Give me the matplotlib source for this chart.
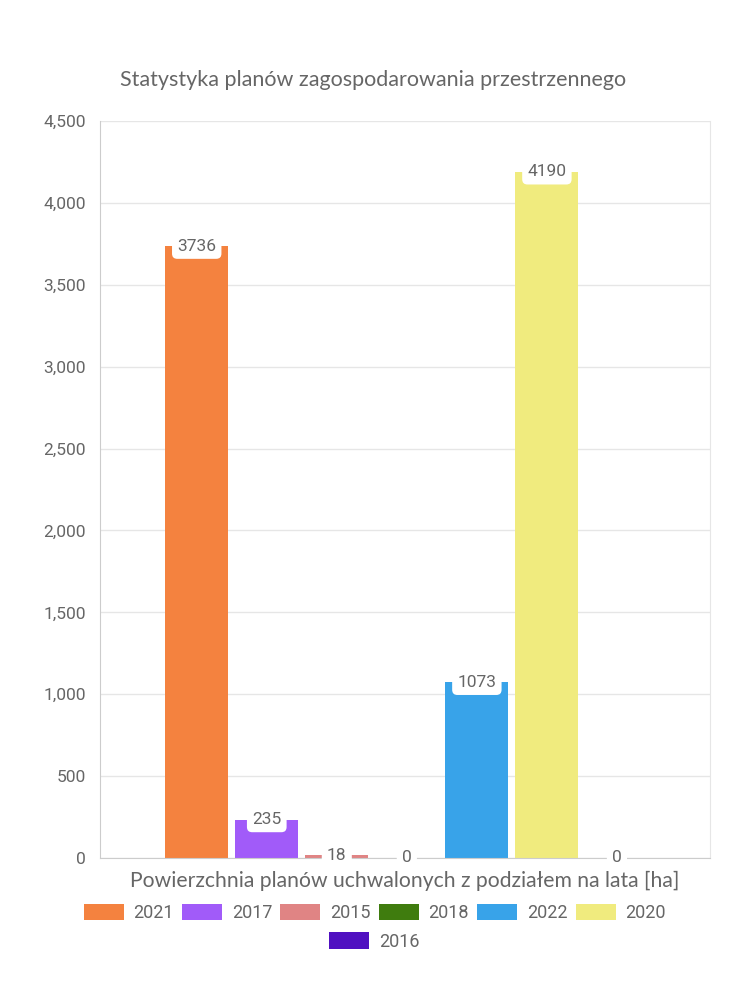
import numpy as np
import matplotlib
matplotlib.use('Agg')
import matplotlib.pyplot as plt
import matplotlib as mpl
from matplotlib.ticker import FuncFormatter

# data
years = ['2021', '2017', '2015', '2018', '2022', '2020', '2016']
values = [3736, 235, 18, 0, 1073, 4190, 0]
colors = ['#F4823F', '#A15BF9', '#E08484', '#3F7C0E', '#38A3E9', '#F0EB7E', '#5010C1']
title = 'Statystyka planów zagospodarowania przestrzennego'
xlabel = 'Powierzchnia planów uchwalonych z podziałem na lata [ha]'
yticks = [0, 500, 1000, 1500, 2000, 2500, 3000, 3500, 4000, 4500]

txt = '#666666'
mpl.rcParams['font.family'] = ['Roboto', 'DejaVu Sans']

fig = plt.figure(figsize=(7.5, 10), dpi=100)
ax = fig.add_axes([0.1333, 0.142, 0.8134, 0.737])

step = 0.1148
width = 0.103
n = len(values)
handles = []
for i, (yr, v, c) in enumerate(zip(years, values, colors)):
    x = (i - (n - 1) / 2) * step + 0.003
    b = ax.bar(x, v, width=width, color=c, label=yr, zorder=2)
    handles.append(b)
    ax.text(x, v, str(v), ha='center', va='center', fontsize=12.5, color=txt, zorder=4,
            bbox=dict(boxstyle='round,pad=0.3,rounding_size=0.3', fc='white', ec='none'))

ax.set_xlim(-0.5, 0.5)
ax.set_ylim(0, 4500)
ax.set_yticks(yticks)
ax.yaxis.set_major_formatter(FuncFormatter(lambda v, p: f'{int(v):,}'))
ax.set_xticks([])
ax.tick_params(axis='y', length=0, pad=10, labelsize=12.5, labelcolor=txt)
ax.grid(axis='y', color='#e6e6e6', linewidth=1, zorder=0)
ax.spines['top'].set_visible(False)
ax.spines['left'].set_color('#cccccc')
ax.spines['right'].set_color('#e6e6e6')
ax.spines['bottom'].set_color('#cccccc')

fig.text(0.4973, 0.92, title, ha='center', va='center', fontsize=15.5, color=txt,
         family=['Lato', 'DejaVu Sans'])
ax.set_xlabel(xlabel, fontsize=15.2, color=txt, labelpad=9, family=['Lato', 'DejaVu Sans'])

# legend in two rows: 6 + 1
leg_kw = dict(frameon=False, fontsize=13, labelcolor=txt, handlelength=2.22, handleheight=1.0,
              columnspacing=0.45, handletextpad=0.54, borderaxespad=0, borderpad=0)
leg1 = fig.legend(handles[:6], years[:6], loc='center', bbox_to_anchor=(0.4997, 0.087), ncol=6, **leg_kw)
leg2 = fig.legend(handles[6:], years[6:], loc='center', bbox_to_anchor=(0.499, 0.0585), ncol=1, **leg_kw)

fig.savefig('out.png', dpi=100)
